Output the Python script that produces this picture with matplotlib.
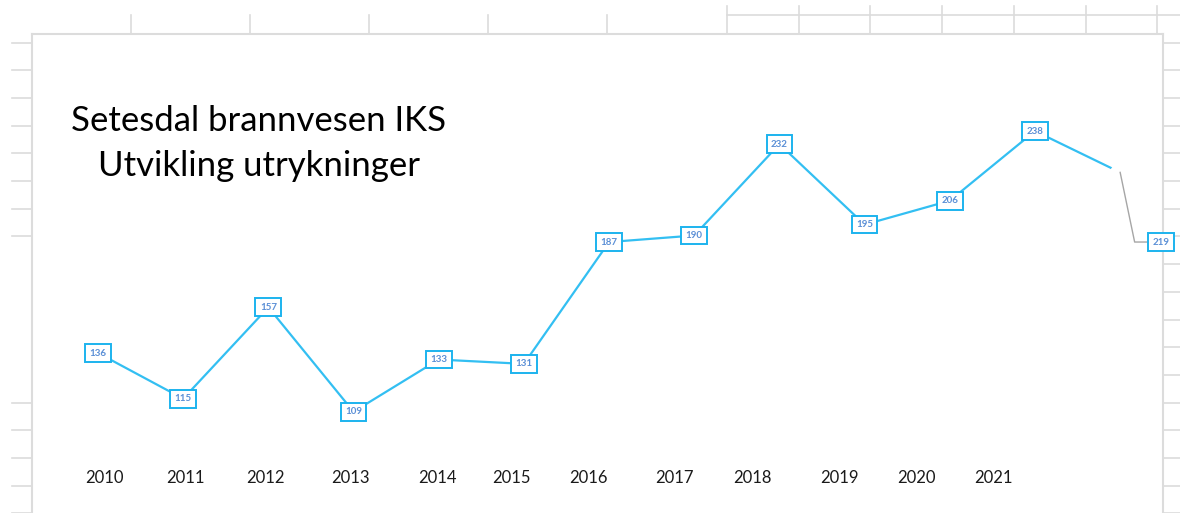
import numpy as np
import matplotlib.pyplot as plt

# data
years = ["2010", "2011", "2012", "2013", "2014", "2015", "2016",
         "2017", "2018", "2019", "2020", "2021"]
utrykninger = [136, 115, 157, 109, 133, 131, 187, 190, 232, 195, 206, 238, 219]
# text boxes for the years sit a bit to the left of the points
year_pos = [0.08, 1.03, 1.96, 2.96, 3.98, 4.85, 5.76, 6.77, 7.68, 8.70, 9.61, 10.51]

W, H = 1180, 513
fig = plt.figure(figsize=(W / 100, H / 100), dpi=100)

# spreadsheet grid behind the chart object
bg = fig.add_axes([0, 0, 1, 1])
bg.set_xlim(0, W)
bg.set_ylim(H, 0)
bg.axis("off")
gc = "#dcdcdc"
rows = np.arange(42.5, H + 1, 27.7)
for y in rows:
    if y < 240 or y > 400:
        bg.plot([12, 32], [y, y], color=gc, lw=1.2)
    bg.plot([1163, W], [y, y], color=gc, lw=1.2)
for x in np.arange(131, 620, 119):
    bg.plot([x, x], [15, 34], color=gc, lw=1.2)
for x in np.arange(727, W, 71.7):
    bg.plot([x, x], [6, 34], color=gc, lw=1.2)
bg.plot([727, W], [15, 15], color=gc, lw=1.2)

# chart area
x0, x1, y0, y1 = 32, 1163, 34, 513
ax = fig.add_axes([x0 / W, 0, (x1 - x0) / W, (y1 - y0) / H])
ax.set_facecolor("white")
ax.spines["bottom"].set_visible(False)
for s in ["left", "top", "right"]:
    ax.spines[s].set_color(gc)
    ax.spines[s].set_linewidth(1.5)
ax.set_xticks([])
ax.set_yticks([])

px = 85.18  # pixels per category
py = 2.176  # pixels per unit
ax.set_xlim((x0 - 98) / px, (x1 - 98) / px)
ax.set_ylim(136 - (y1 - 353) / py, 136 + (353 - y0) / py)

idx = np.arange(len(utrykninger))
ax.plot(idx, utrykninger, color="#33bff2", lw=1.6, zorder=2, clip_on=False)

box = dict(boxstyle="square,pad=0.45", fc="white", ec="#1cb3ee", lw=1.4)
for i, v in zip(idx[:-1], utrykninger[:-1]):
    ax.text(i, v, str(v), ha="center", va="center", fontsize=7,
            color="#5a8fd6", family="Lato", fontweight="bold", bbox=box, zorder=3)

# last label moved out to the right with a leader line
i, v = idx[-1], utrykninger[-1]
lx, ly = i + 0.36, v - 32
ax.plot([i, i + 0.17, lx - 0.05], [v, ly, ly], color="#a6a6a6", lw=1.0, zorder=4)
ax.plot([i - 0.07, i + 0.02], [v + 1.5, v - 1.0], color="white", lw=4, zorder=3)
ax.text(lx + 0.02, ly, str(v), ha="left", va="center", fontsize=7,
        color="#5a8fd6", family="Lato", fontweight="bold", bbox=box, zorder=5,
        clip_on=False)

for p, yr in zip(year_pos, years):
    ax.text(p, 136 - (478 - 353) / py, yr, ha="center", va="center",
            fontsize=12, family="Lato", color="#1a1a1a")

tx = (259 - 98) / px
ax.text(tx, 136 + (353 - 121) / py, "Setesdal brannvesen IKS", ha="center",
        va="center", fontsize=25, family="Lato", color="black")
ax.text(tx, 136 + (353 - 166) / py, "Utvikling utrykninger", ha="center",
        va="center", fontsize=25, family="Lato", color="black")

fig.savefig("out.png", dpi=100)
